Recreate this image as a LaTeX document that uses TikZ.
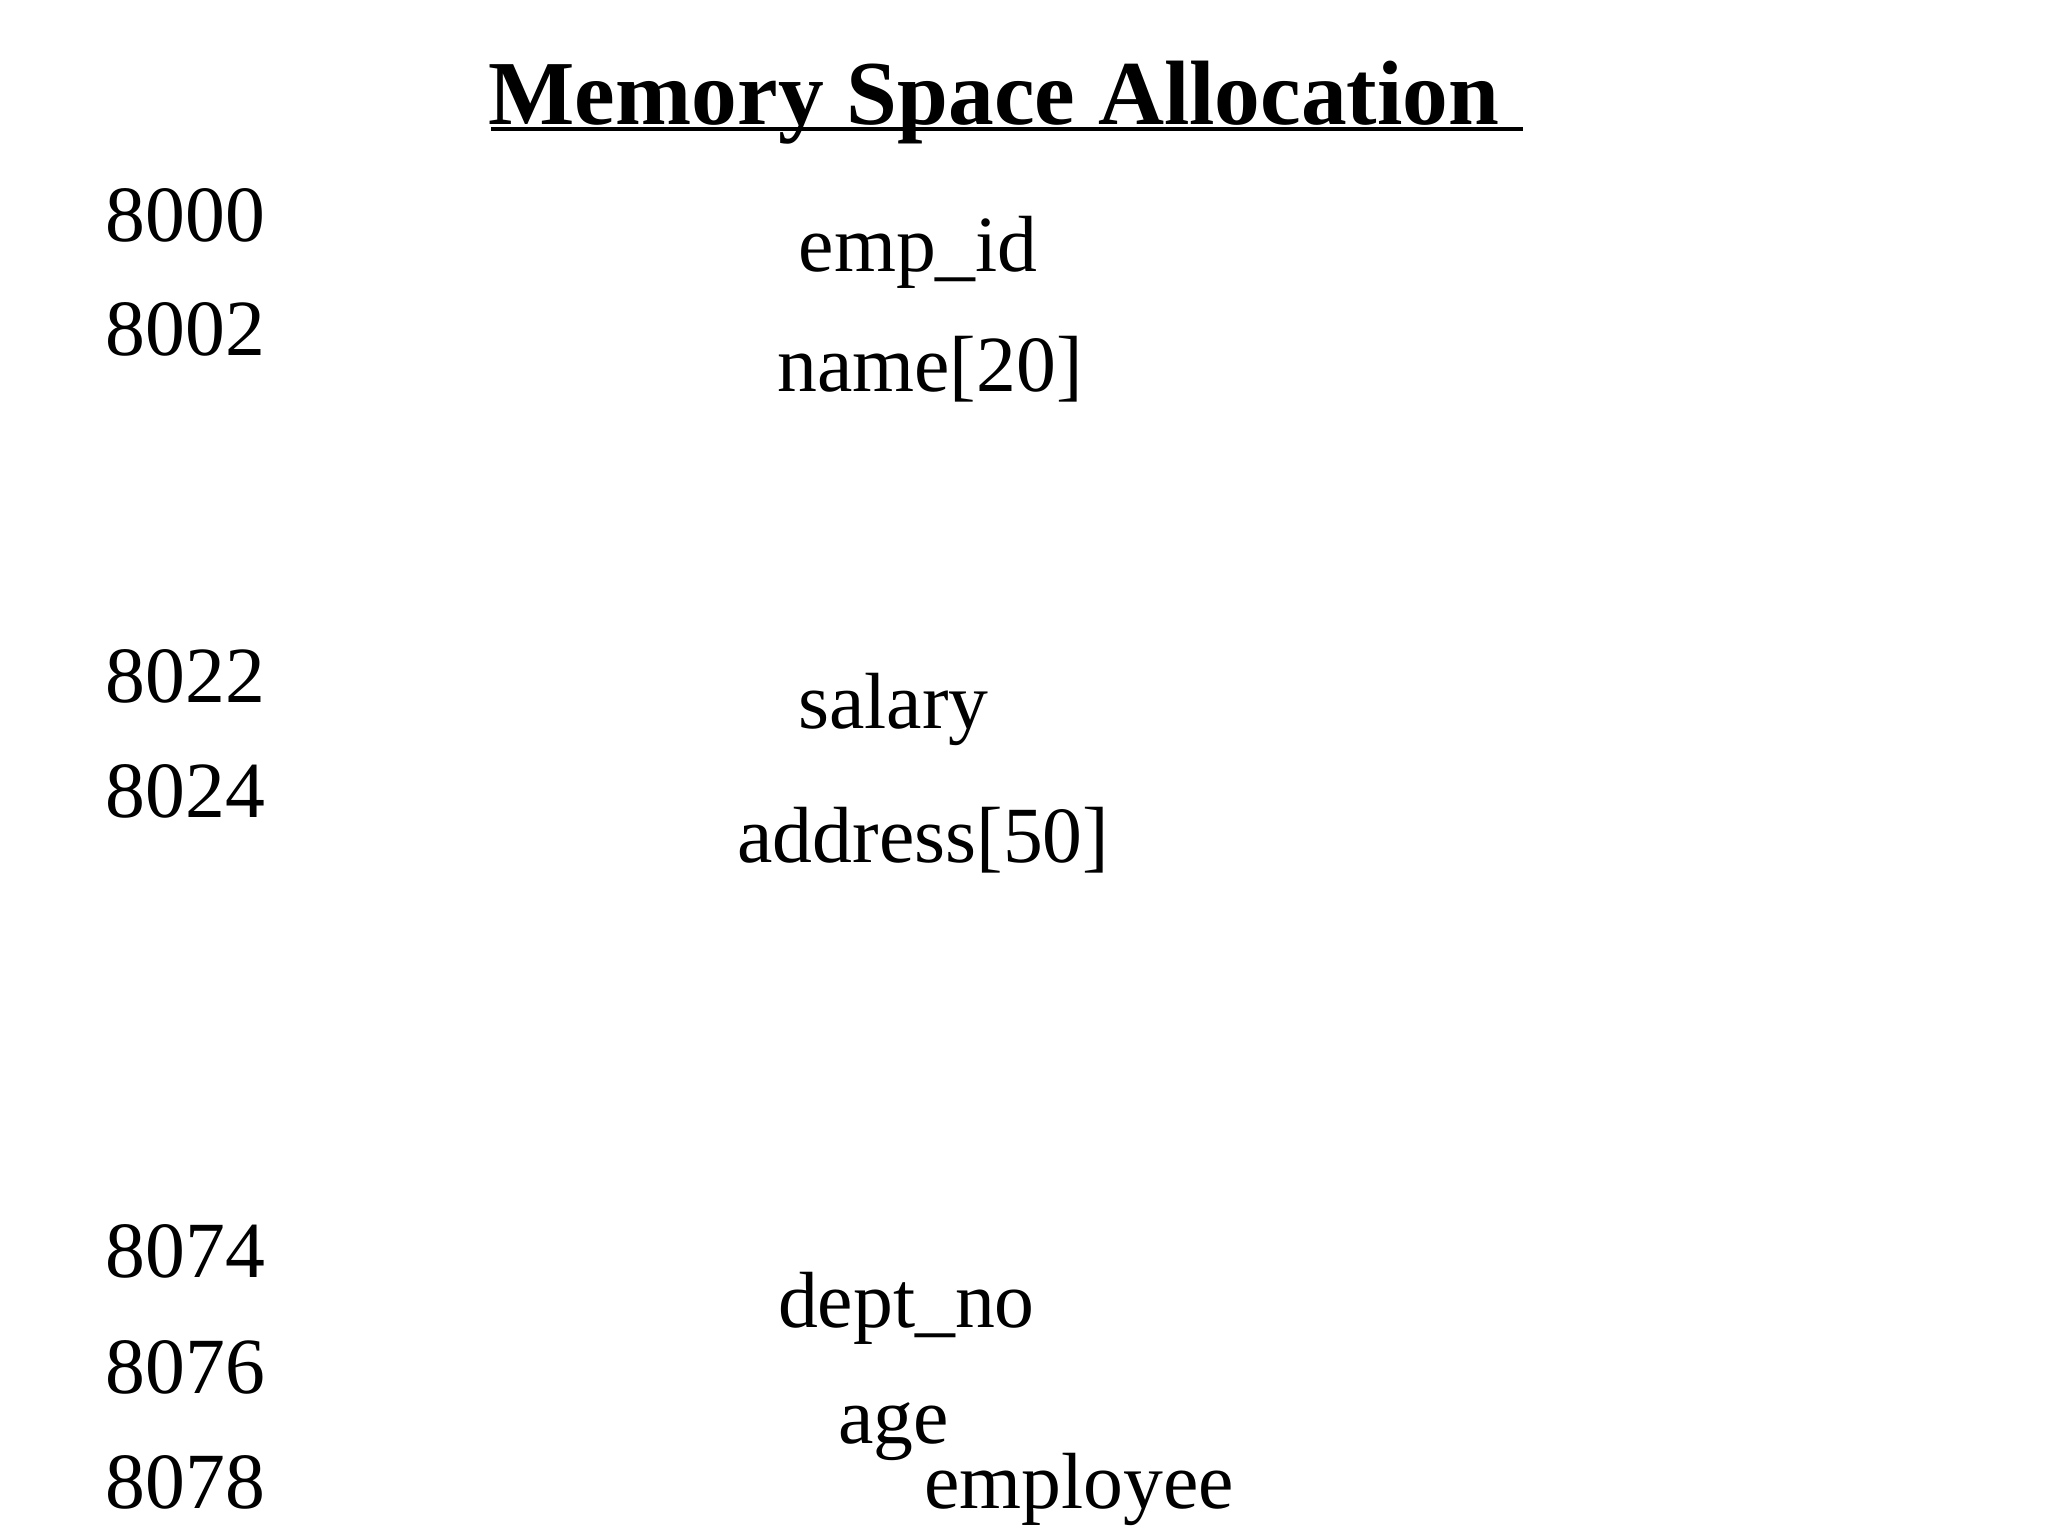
\documentclass[tikz,border=0pt]{standalone}
\usepackage{fontspec}
\setmainfont{Liberation Serif}
\begin{document}
\begin{tikzpicture}[x=0.5pt,y=-0.5pt,
  lbl/.style={anchor=base,inner sep=0pt,font=\fontsize{30.5}{36}\selectfont}]
\useasboundingbox (0,0) rectangle (1568,1176);
\node[anchor=base,inner sep=0pt,font=\fontsize{35}{42}\selectfont\bfseries] (title) at (761,95) {Memory Space Allocation};
\draw[line width=1.5pt] (376,99) coordinate (u1) -- (1166,99) coordinate (u2);
\node[lbl] (a1) at (142,185) {8000};
\node[lbl] (a2) at (142,272) {8002};
\node[lbl] (a3) at (142,538) {8022};
\node[lbl] (a4) at (142,626) {8024};
\node[lbl] (a5) at (142,978) {8074};
\node[lbl] (a6) at (142,1067) {8076};
\node[lbl] (a7) at (142,1155) {8078};
\node[lbl] (f1) at (703,208) {emp\_id};
\node[lbl] (f2) at (712,300) {name[20]};
\node[lbl] (f3) at (684,558) {salary};
\node[lbl] (f4) at (707,660) {address[50]};
\node[lbl] (f5) at (694,1016) {dept\_no};
\node[lbl] (f6) at (684,1105) {age};
\node[lbl] (f7) at (826,1155) {employee};
\end{tikzpicture}
\end{document}
